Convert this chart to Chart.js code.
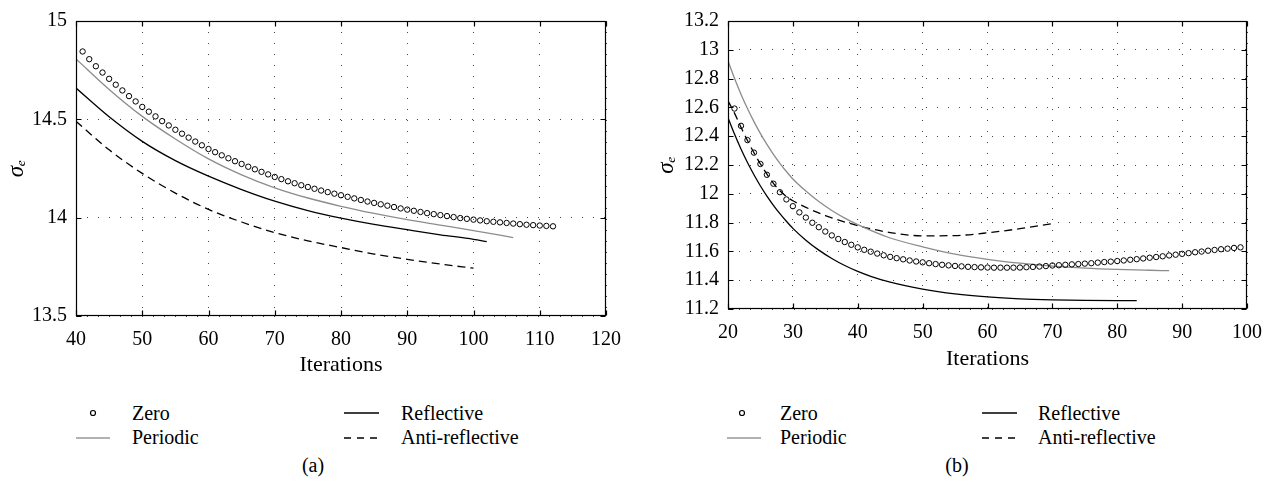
<!DOCTYPE html>
<html>
<head>
<meta charset="utf-8">
<script src="https://cdn.jsdelivr.net/npm/chart.js@4.4.1/dist/chart.umd.min.js"></script>
<style>
  body { margin: 0; background: #fff; width: 1274px; height: 489px; position: relative; overflow: hidden; font-family: "Liberation Serif", serif; color: #000; }
  canvas { position: absolute; top: 0; }
  #chartA { left: 0; }
  #chartB { left: 650px; }
  .mk { position: absolute; }
  .tx { position: absolute; font-size: 20px; line-height: 24px; white-space: nowrap; }
  .cap { position: absolute; font-size: 20px; line-height: 24px; transform: translateX(-50%); }
</style>
</head>
<body>
<canvas id="chartA" width="650" height="382"></canvas>
<canvas id="chartB" width="624" height="376"></canvas>

<!-- legend (a) -->
<svg class="mk" style="left:76px;top:401px" width="34" height="24"><circle cx="17" cy="12" r="2.5" fill="none" stroke="#000" stroke-width="1.2"/></svg>
<div class="tx" style="left:132px;top:401px">Zero</div>
<svg class="mk" style="left:76px;top:425px" width="34" height="24"><line x1="0" y1="13" x2="34" y2="13" stroke="#999" stroke-width="1.5"/></svg>
<div class="tx" style="left:132px;top:425px">Periodic</div>
<svg class="mk" style="left:344px;top:401px" width="35" height="24"><line x1="0" y1="12" x2="35" y2="12" stroke="#000" stroke-width="1.5"/></svg>
<div class="tx" style="left:401px;top:401px">Reflective</div>
<svg class="mk" style="left:344px;top:425px" width="35" height="24"><line x1="0" y1="13" x2="35" y2="13" stroke="#000" stroke-width="1.3" stroke-dasharray="7 6"/></svg>
<div class="tx" style="left:401px;top:425px">Anti-reflective</div>
<div class="cap" style="left:313px;top:453px">(a)</div>

<!-- legend (b) -->
<svg class="mk" style="left:725px;top:401px" width="34" height="24"><circle cx="17" cy="12" r="2.5" fill="none" stroke="#000" stroke-width="1.2"/></svg>
<div class="tx" style="left:780px;top:401px">Zero</div>
<svg class="mk" style="left:727px;top:425px" width="34" height="24"><line x1="0" y1="13" x2="34" y2="13" stroke="#999" stroke-width="1.5"/></svg>
<div class="tx" style="left:780px;top:425px">Periodic</div>
<svg class="mk" style="left:982px;top:401px" width="35" height="24"><line x1="0" y1="12" x2="35" y2="12" stroke="#000" stroke-width="1.5"/></svg>
<div class="tx" style="left:1038px;top:401px">Reflective</div>
<svg class="mk" style="left:982px;top:425px" width="35" height="24"><line x1="0" y1="13" x2="35" y2="13" stroke="#000" stroke-width="1.3" stroke-dasharray="7 6"/></svg>
<div class="tx" style="left:1038px;top:425px">Anti-reflective</div>
<div class="cap" style="left:957px;top:453px">(b)</div>

<script>
// ---- panel (a) ----
const xTicksA = [40, 50, 60, 70, 80, 90, 100, 110, 120];
const yTicksA = [13.5, 14, 14.5, 15];

const zeroIterA = [41, 42, 43, 44, 45, 46, 47, 48, 49, 50,
  51, 52, 53, 54, 55, 56, 57, 58, 59, 60,
  61, 62, 63, 64, 65, 66, 67, 68, 69, 70,
  71, 72, 73, 74, 75, 76, 77, 78, 79, 80,
  81, 82, 83, 84, 85, 86, 87, 88, 89, 90,
  91, 92, 93, 94, 95, 96, 97, 98, 99, 100,
  101, 102, 103, 104, 105, 106, 107, 108, 109, 110, 111, 112];
const zeroA = [14.845, 14.806, 14.770, 14.738, 14.706, 14.676, 14.647, 14.618, 14.591, 14.563,
  14.539, 14.515, 14.491, 14.469, 14.447, 14.427, 14.407, 14.387, 14.368, 14.349,
  14.333, 14.317, 14.302, 14.287, 14.273, 14.259, 14.246, 14.233, 14.220, 14.207,
  14.196, 14.185, 14.175, 14.165, 14.156, 14.147, 14.138, 14.130, 14.122, 14.114,
  14.106, 14.098, 14.090, 14.082, 14.075, 14.068, 14.061, 14.054, 14.047, 14.041,
  14.035, 14.029, 14.023, 14.018, 14.013, 14.008, 14.003, 13.998, 13.994, 13.990,
  13.986, 13.982, 13.979, 13.976, 13.973, 13.970, 13.967, 13.964, 13.962, 13.960, 13.958, 13.956];

const periodicIterA = [40, 45, 50, 55, 60, 65, 70, 75, 80, 85, 90, 95, 100, 106];
const periodicA = [14.807, 14.652, 14.515, 14.400, 14.299, 14.218, 14.152, 14.100, 14.058, 14.022, 13.990, 13.962, 13.934, 13.899];

const reflectiveIterA = [40, 45, 50, 55, 60, 65, 70, 75, 80, 85, 90, 95, 100, 102];
const reflectiveA = [14.659, 14.513, 14.388, 14.290, 14.211, 14.143, 14.084, 14.036, 13.998, 13.966, 13.939, 13.913, 13.890, 13.878];

const antiIterA = [40, 45, 50, 55, 60, 65, 70, 75, 80, 85, 90, 95, 100];
const antiA = [14.490, 14.345, 14.225, 14.125, 14.042, 13.978, 13.924, 13.882, 13.848, 13.815, 13.788, 13.764, 13.743];

// ---- panel (b) ----
const xTicksB = [20, 30, 40, 50, 60, 70, 80, 90, 100];
const yTicksB = [11.2, 11.4, 11.6, 11.8, 12, 12.2, 12.4, 12.6, 12.8, 13, 13.2];

const zeroIterB = [21, 22, 23, 24, 25, 26, 27, 28, 29, 30,
  31, 32, 33, 34, 35, 36, 37, 38, 39, 40,
  41, 42, 43, 44, 45, 46, 47, 48, 49, 50,
  51, 52, 53, 54, 55, 56, 57, 58, 59, 60,
  61, 62, 63, 64, 65, 66, 67, 68, 69, 70,
  71, 72, 73, 74, 75, 76, 77, 78, 79, 80,
  81, 82, 83, 84, 85, 86, 87, 88, 89, 90,
  91, 92, 93, 94, 95, 96, 97, 98, 99];
const zeroB = [12.592, 12.472, 12.373, 12.286, 12.207, 12.132, 12.070, 12.011, 11.961, 11.914,
  11.871, 11.835, 11.799, 11.768, 11.738, 11.711, 11.686, 11.665, 11.646, 11.628,
  11.611, 11.598, 11.585, 11.573, 11.562, 11.553, 11.545, 11.537, 11.530, 11.524,
  11.518, 11.512, 11.507, 11.503, 11.499, 11.496, 11.493, 11.491, 11.489, 11.488,
  11.487, 11.487, 11.487, 11.487, 11.488, 11.490, 11.492, 11.495, 11.498, 11.502,
  11.504, 11.507, 11.510, 11.512, 11.515, 11.518, 11.522, 11.526, 11.529, 11.533,
  11.537, 11.542, 11.546, 11.551, 11.556, 11.561, 11.566, 11.572, 11.577, 11.583,
  11.588, 11.594, 11.599, 11.605, 11.610, 11.615, 11.619, 11.624, 11.628];

const periodicIterB = [20, 21, 22, 23, 24, 25, 26, 27, 28, 29, 30, 32, 34, 36, 38, 40, 45, 50, 55, 60, 65, 70, 75, 80, 85, 88];
const periodicB = [12.923, 12.802, 12.692, 12.592, 12.501, 12.418, 12.343, 12.274, 12.212, 12.155, 12.103, 12.019, 11.946, 11.884, 11.831, 11.786, 11.693, 11.632, 11.581, 11.545, 11.518, 11.498, 11.484, 11.475, 11.469, 11.466];

const reflectiveIterB = [20, 21, 22, 23, 24, 25, 26, 27, 28, 29, 30, 32, 34, 36, 38, 40, 42, 45, 50, 55, 60, 65, 70, 75, 80, 83];
const reflectiveB = [12.529, 12.415, 12.311, 12.217, 12.132, 12.054, 11.984, 11.920, 11.862, 11.809, 11.760, 11.678, 11.609, 11.551, 11.502, 11.461, 11.427, 11.386, 11.338, 11.305, 11.284, 11.271, 11.264, 11.260, 11.258, 11.258];

const antiIterB = [20, 21, 22, 23, 24, 25, 26, 27, 28, 29, 30, 32, 35, 40, 45, 50, 55, 60, 65, 70];
const antiB = [12.646, 12.560, 12.462, 12.370, 12.285, 12.207, 12.136, 12.073, 12.021, 11.982, 11.952, 11.906, 11.849, 11.779, 11.731, 11.708, 11.710, 11.729, 11.758, 11.793];

const FONT = { family: '"Liberation Serif", serif', size: 20 };

function pts(xs, ys) {
    return xs.map((x, i) => ({ x: x, y: ys[i] }));
}

function fmt(v) {
    return String(Math.round(v * 10) / 10);
}

// frame + inward tick marks on all four sides
const boxPlugin = {
    id: 'box',
    afterDraw(chart) {
        const ctx = chart.ctx;
        const a = chart.chartArea;
        const xs = chart.scales.x, ys = chart.scales.y;
        const L = Math.round(a.left) + 0.5, R = Math.round(a.right) - 0.5;
        const T = Math.round(a.top) + 0.5, B = Math.round(a.bottom) - 0.5;
        ctx.save();
        ctx.strokeStyle = '#000';
        ctx.lineWidth = 1.2;
        ctx.setLineDash([]);
        ctx.strokeRect(L, T, R - L, B - T);
        ctx.beginPath();
        xs.ticks.forEach(t => {
            const p = Math.round(xs.getPixelForValue(t.value)) + 0.5;
            ctx.moveTo(p, B); ctx.lineTo(p, B - 5);
            ctx.moveTo(p, T); ctx.lineTo(p, T + 5);
        });
        ys.ticks.forEach(t => {
            const p = Math.round(ys.getPixelForValue(t.value)) + 0.5;
            ctx.moveTo(L, p); ctx.lineTo(L + 5, p);
            ctx.moveTo(R, p); ctx.lineTo(R - 5, p);
        });
        ctx.stroke();
        ctx.restore();
    }
};

function makeChart(id, o) {
    const lineSet = (label, data, color, dash) => ({
        label: label,
        data: data,
        showLine: true,
        borderColor: color,
        borderWidth: 1.3,
        borderDash: dash || [],
        pointRadius: 0,
        cubicInterpolationMode: 'monotone'
    });
    return new Chart(document.getElementById(id), {
        type: 'scatter',
        data: {
            datasets: [
                {
                    label: 'Zero',
                    data: o.zero,
                    showLine: false,
                    pointRadius: 2.7,
                    pointBorderWidth: 1,
                    pointBorderColor: '#000',
                    pointBackgroundColor: 'rgba(0,0,0,0)'
                },
                lineSet('Periodic', o.periodic, '#8c8c8c'),
                lineSet('Reflective', o.reflective, '#000'),
                lineSet('Anti-reflective', o.anti, '#000', [8, 5])
            ]
        },
        options: {
            responsive: false,
            animation: false,
            devicePixelRatio: 1,
            layout: { padding: { top: o.top, right: o.right, left: 0, bottom: 0 } },
            plugins: { legend: { display: false }, tooltip: { enabled: false } },
            scales: {
                x: {
                    type: 'linear',
                    min: o.xTicks[0],
                    max: o.xTicks[o.xTicks.length - 1],
                    afterBuildTicks: s => { s.ticks = o.xTicks.map(v => ({ value: v })); },
                    afterFit: s => { s.height = o.xH; },
                    grid: { color: '#444', lineWidth: 1, drawTicks: false },
                    border: { display: false, dash: [1, 10] },
                    ticks: { padding: 12, color: '#000', font: FONT, maxRotation: 0, callback: v => fmt(v) },
                    title: { display: true, text: 'Iterations', color: '#000', font: { family: FONT.family, size: 22 }, padding: 4 }
                },
                y: {
                    type: 'linear',
                    min: o.yTicks[0],
                    max: o.yTicks[o.yTicks.length - 1],
                    afterBuildTicks: s => { s.ticks = o.yTicks.map(v => ({ value: v })); },
                    afterFit: s => { s.width = o.yW; },
                    grid: { color: '#444', lineWidth: 1, drawTicks: false },
                    border: { display: false, dash: [1, 10] },
                    ticks: { padding: o.yPad, color: '#000', font: FONT, callback: v => fmt(v) },
                    title: { display: true, text: 'σₑ', color: '#000', font: { family: FONT.family, size: 23, style: 'italic' }, padding: 3 }
                }
            }
        },
        plugins: [boxPlugin]
    });
}

makeChart('chartA', {
    zero: pts(zeroIterA, zeroA),
    periodic: pts(periodicIterA, periodicA),
    reflective: pts(reflectiveIterA, reflectiveA),
    anti: pts(antiIterA, antiA),
    xTicks: xTicksA, yTicks: yTicksA,
    top: 21, right: 44, xH: 66, yW: 76, yPad: 9
});

makeChart('chartB', {
    zero: pts(zeroIterB, zeroB),
    periodic: pts(periodicIterB, periodicB),
    reflective: pts(reflectiveIterB, reflectiveB),
    anti: pts(antiIterB, antiB),
    xTicks: xTicksB, yTicks: yTicksB,
    top: 14, right: 17, xH: 67, yW: 78, yPad: 9
});
</script>
</body>
</html>
